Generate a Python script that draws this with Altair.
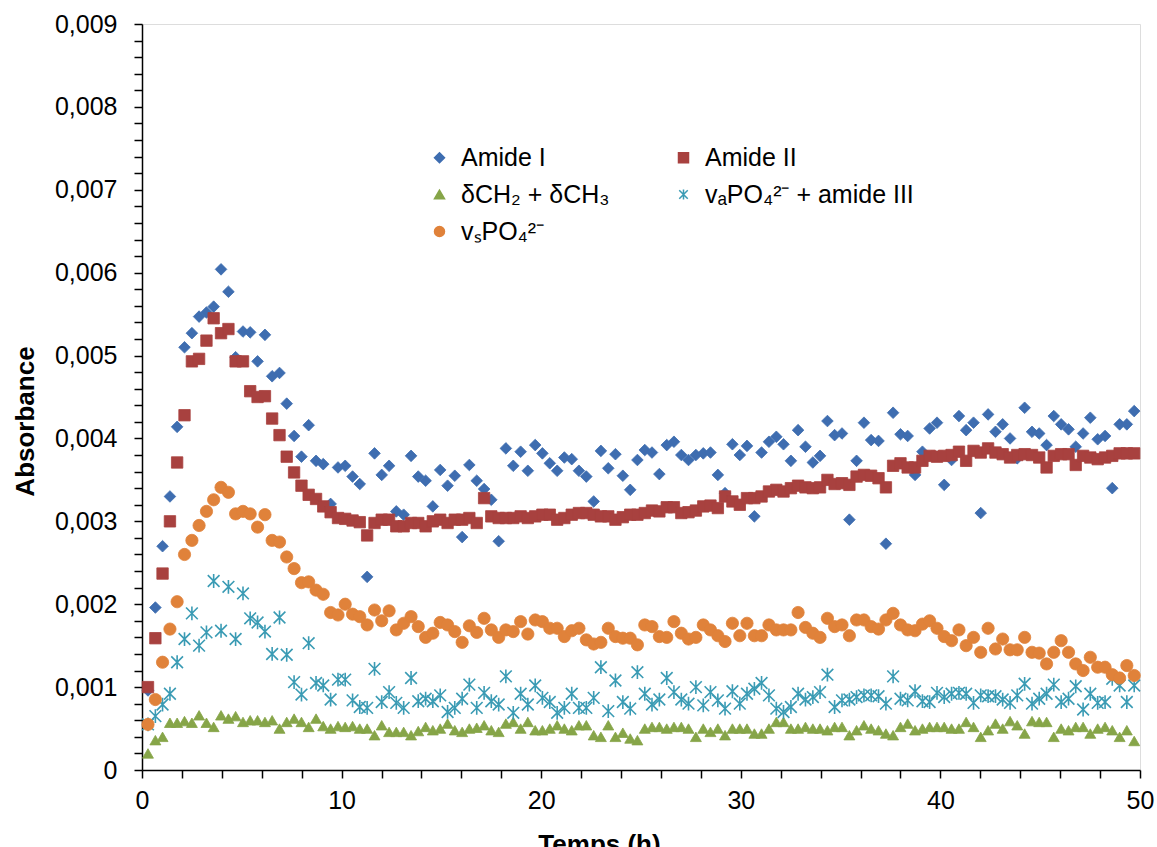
import altair as alt
import pandas as pd

# Time (h) of each acquisition
time_h = [0.30, 0.67, 1.03, 1.40, 1.76, 2.13, 2.50, 2.86, 3.23, 3.59,
          3.96, 4.33, 4.69, 5.06, 5.42, 5.79, 6.16, 6.52, 6.89, 7.25,
          7.62, 7.99, 8.35, 8.72, 9.08, 9.45, 9.82, 10.18, 10.55, 10.91,
          11.28, 11.65, 12.01, 12.38, 12.74, 13.11, 13.48, 13.84, 14.21, 14.57,
          14.94, 15.31, 15.67, 16.04, 16.40, 16.77, 17.14, 17.50, 17.87, 18.23,
          18.60, 18.97, 19.33, 19.70, 20.06, 20.43, 20.80, 21.16, 21.53, 21.89,
          22.26, 22.63, 22.99, 23.36, 23.72, 24.09, 24.46, 24.82, 25.19, 25.55,
          25.92, 26.29, 26.65, 27.02, 27.38, 27.75, 28.12, 28.48, 28.85, 29.21,
          29.58, 29.95, 30.31, 30.68, 31.04, 31.41, 31.78, 32.14, 32.51, 32.87,
          33.24, 33.61, 33.97, 34.34, 34.70, 35.07, 35.44, 35.80, 36.17, 36.53,
          36.90, 37.27, 37.63, 38.00, 38.36, 38.73, 39.10, 39.46, 39.83, 40.19,
          40.56, 40.93, 41.29, 41.66, 42.02, 42.39, 42.76, 43.12, 43.49, 43.85,
          44.22, 44.59, 44.95, 45.32, 45.68, 46.05, 46.42, 46.78, 47.15, 47.51,
          47.88, 48.25, 48.61, 48.98, 49.34, 49.71]

# Absorbance values, in units of 0.001
amide_I = [0.96, 1.96, 2.70, 3.30, 4.14, 5.10, 5.27, 5.47, 5.52, 5.59,
           6.04, 5.77, 4.98, 5.29, 5.28, 4.93, 5.25, 4.75, 4.79, 4.42,
           4.03, 3.78, 4.16, 3.73, 3.69, 3.21, 3.65, 3.67, 3.54, 3.45,
           2.33, 3.82, 3.56, 3.67, 3.12, 3.08, 3.79, 3.54, 3.49, 3.18,
           3.62, 3.43, 3.55, 2.81, 3.68, 3.49, 3.39, 3.26, 2.76, 3.88,
           3.67, 3.84, 3.61, 3.92, 3.82, 3.70, 3.61, 3.77, 3.75, 3.61,
           3.54, 3.24, 3.85, 3.64, 3.81, 3.55, 3.38, 3.74, 3.86, 3.83,
           3.57, 3.92, 3.96, 3.80, 3.74, 3.80, 3.82, 3.83, 3.56, 3.34,
           3.93, 3.80, 3.91, 3.06, 3.83, 3.96, 4.02, 3.93, 3.73, 4.10,
           3.90, 3.71, 3.79, 4.21, 4.04, 4.06, 3.02, 3.73, 4.19, 3.98,
           3.97, 2.73, 4.31, 4.05, 4.03, 3.56, 3.84, 4.12, 4.19, 3.44,
           3.74, 4.27, 4.10, 4.19, 3.10, 4.29, 4.08, 4.17, 4.00, 3.76,
           4.37, 4.08, 4.06, 3.92, 4.27, 4.17, 4.11, 3.90, 4.06, 4.25,
           3.99, 4.03, 3.40, 4.17, 4.17, 4.33]

amide_II = [1.00, 1.59, 2.37, 3.00, 3.71, 4.28, 4.93, 4.96, 5.18, 5.45,
            5.27, 5.32, 4.93, 4.93, 4.57, 4.50, 4.51, 4.24, 4.04, 3.78,
            3.59, 3.43, 3.32, 3.27, 3.18, 3.11, 3.04, 3.03, 3.01, 2.99,
            2.83, 2.98, 3.02, 3.02, 2.94, 2.94, 2.98, 2.98, 2.94, 3.00,
            3.02, 2.98, 3.02, 3.02, 3.04, 2.98, 3.28, 3.06, 3.04, 3.04,
            3.04, 3.06, 3.04, 3.06, 3.08, 3.08, 3.02, 3.04, 3.08, 3.10,
            3.10, 3.08, 3.06, 3.06, 3.02, 3.05, 3.08, 3.08, 3.10, 3.13,
            3.12, 3.17, 3.17, 3.10, 3.11, 3.13, 3.18, 3.19, 3.16, 3.30,
            3.24, 3.20, 3.28, 3.28, 3.30, 3.36, 3.38, 3.36, 3.40, 3.43,
            3.41, 3.40, 3.41, 3.50, 3.45, 3.46, 3.44, 3.54, 3.56, 3.55,
            3.52, 3.41, 3.67, 3.70, 3.65, 3.65, 3.73, 3.79, 3.78, 3.79,
            3.80, 3.84, 3.73, 3.85, 3.83, 3.88, 3.83, 3.81, 3.77, 3.80,
            3.81, 3.80, 3.77, 3.65, 3.79, 3.81, 3.81, 3.68, 3.79, 3.77,
            3.75, 3.77, 3.79, 3.82, 3.82, 3.82]

ch2_ch3 = [0.20, 0.36, 0.40, 0.57, 0.57, 0.59, 0.57, 0.66, 0.57, 0.52,
           0.66, 0.62, 0.65, 0.58, 0.60, 0.60, 0.58, 0.60, 0.50, 0.58,
           0.62, 0.58, 0.52, 0.62, 0.53, 0.50, 0.53, 0.52, 0.53, 0.50,
           0.50, 0.42, 0.54, 0.46, 0.46, 0.46, 0.42, 0.47, 0.52, 0.48,
           0.50, 0.56, 0.48, 0.46, 0.50, 0.51, 0.54, 0.48, 0.46, 0.56,
           0.58, 0.50, 0.58, 0.48, 0.48, 0.50, 0.54, 0.50, 0.48, 0.54,
           0.54, 0.42, 0.40, 0.54, 0.40, 0.45, 0.38, 0.36, 0.50, 0.52,
           0.52, 0.50, 0.52, 0.52, 0.50, 0.40, 0.50, 0.46, 0.50, 0.42,
           0.50, 0.50, 0.50, 0.44, 0.44, 0.50, 0.58, 0.58, 0.50, 0.50,
           0.52, 0.50, 0.50, 0.48, 0.52, 0.52, 0.42, 0.48, 0.54, 0.50,
           0.48, 0.44, 0.42, 0.52, 0.56, 0.48, 0.50, 0.52, 0.52, 0.52,
           0.50, 0.50, 0.58, 0.52, 0.40, 0.48, 0.56, 0.50, 0.59, 0.54,
           0.44, 0.59, 0.58, 0.58, 0.40, 0.50, 0.48, 0.52, 0.52, 0.44,
           0.50, 0.52, 0.48, 0.40, 0.48, 0.35]

va_po4_amide_III = [0.55, 0.65, 0.79, 0.92, 1.30, 1.58, 1.89, 1.50, 1.66, 2.28,
                    1.68, 2.21, 1.58, 2.13, 1.83, 1.78, 1.67, 1.40, 1.84, 1.39,
                    1.06, 0.91, 1.53, 1.05, 1.02, 0.85, 1.09, 1.09, 0.84, 0.76,
                    0.75, 1.22, 0.82, 0.94, 0.81, 0.75, 1.11, 0.83, 0.86, 0.83,
                    0.90, 0.70, 0.75, 0.86, 1.03, 0.75, 0.93, 0.83, 0.79, 1.13,
                    0.69, 0.92, 0.79, 1.02, 0.87, 0.82, 0.69, 0.75, 0.92, 0.75,
                    0.75, 0.87, 1.24, 0.71, 1.08, 0.82, 0.74, 1.18, 0.92, 0.79,
                    0.85, 1.11, 0.94, 0.85, 0.80, 1.00, 0.78, 0.94, 0.84, 0.74,
                    0.95, 0.80, 0.92, 0.98, 1.05, 0.90, 0.74, 0.70, 0.76, 0.92,
                    0.85, 0.88, 0.94, 1.15, 0.76, 0.84, 0.85, 0.88, 0.90, 0.90,
                    0.89, 0.80, 1.13, 0.86, 0.84, 0.95, 0.83, 0.82, 0.93, 0.88,
                    0.92, 0.93, 0.92, 0.81, 0.90, 0.89, 0.89, 0.85, 0.81, 0.90,
                    1.04, 0.80, 0.86, 0.92, 1.03, 0.82, 0.86, 1.01, 0.73, 0.92,
                    0.81, 0.82, 1.10, 1.02, 0.82, 1.02]

vs_po4 = [0.55, 0.85, 1.30, 1.70, 2.03, 2.60, 2.77, 2.95, 3.12, 3.26,
          3.41, 3.35, 3.09, 3.12, 3.09, 2.93, 3.08, 2.77, 2.75, 2.57,
          2.43, 2.26, 2.27, 2.17, 2.12, 1.90, 1.87, 2.00, 1.88, 1.85,
          1.75, 1.93, 1.80, 1.92, 1.69, 1.77, 1.85, 1.73, 1.60, 1.65,
          1.78, 1.75, 1.67, 1.54, 1.74, 1.66, 1.83, 1.69, 1.60, 1.69,
          1.67, 1.79, 1.64, 1.81, 1.79, 1.71, 1.71, 1.61, 1.68, 1.71,
          1.57, 1.52, 1.54, 1.71, 1.61, 1.59, 1.59, 1.51, 1.75, 1.73,
          1.61, 1.60, 1.79, 1.65, 1.58, 1.60, 1.75, 1.69, 1.62, 1.55,
          1.77, 1.62, 1.77, 1.62, 1.62, 1.75, 1.69, 1.69, 1.69, 1.90,
          1.72, 1.65, 1.60, 1.83, 1.73, 1.75, 1.62, 1.81, 1.81, 1.73,
          1.70, 1.81, 1.89, 1.75, 1.69, 1.68, 1.76, 1.80, 1.71, 1.61,
          1.56, 1.69, 1.50, 1.60, 1.42, 1.71, 1.46, 1.58, 1.45, 1.45,
          1.60, 1.42, 1.41, 1.28, 1.42, 1.56, 1.42, 1.28, 1.20, 1.36,
          1.24, 1.24, 1.15, 1.11, 1.26, 1.14]

# Series in drawing order
series_names = ["Amide I", "Amide II", "δCH₂ + δCH₃",
                "vₐPO₄²⁻ + amide III", "vₛPO₄²⁻"]
series_values = [amide_I, amide_II, ch2_ch3, va_po4_amide_III, vs_po4]
colors = ["#3E6DB0", "#A8413F", "#86A548", "#3A9BB4", "#E0823A"]
shapes = ["diamond", "square", "triangle-up",
          "M-0.85,-0.85L0.85,0.85M-0.85,0.85L0.85,-0.85M0,-1L0,1", "circle"]
marker_sizes = [135, 130, 120, 190, 150]

# Legend order (filled column by column: 3 rows x 2 columns)
legend_order = ["Amide I", "δCH₂ + δCH₃", "vₛPO₄²⁻",
                "Amide II", "vₐPO₄²⁻ + amide III"]
legend_colors = [colors[series_names.index(n)] for n in legend_order]
legend_shapes = [shapes[series_names.index(n)] for n in legend_order]

x_ticks = list(range(0, 51, 2))
y_ticks = [round(k * 0.0002, 4) for k in range(46)]

for vals in series_values:
    assert len(vals) == len(time_h), len(vals)

rows = []
for name, vals in zip(series_names, series_values):
    for t, v in zip(time_h, vals):
        rows.append({"t": t, "A": v / 1000.0, "series": name})
df = pd.DataFrame(rows)

FONT = "Liberation Sans"

legend = alt.Legend(
    title=None, orient="none", legendX=285, legendY=121, columns=2,
    columnPadding=61, rowPadding=11, labelFontSize=25, labelFont=FONT,
    labelColor="black", symbolSize=100, symbolStrokeWidth=1.5,
    labelOffset=9, padding=0, symbolOpacity=1, labelLimit=400,
)

x_enc = alt.X(
    "t:Q",
    scale=alt.Scale(domain=[0, 50], nice=False, zero=False),
    axis=alt.Axis(
        values=x_ticks,
        labelExpr="datum.value % 10 == 0 ? datum.label : ''",
        tickSize=8, tickWidth=1.5, tickColor="black",
        domainColor="black", domainWidth=1.5,
        labelFontSize=25, labelFont=FONT, labelColor="black",
        labelPadding=10, labelFlush=False, labelOverlap=False,
        grid=False, title="Temps (h)", titleFont=FONT, titleFontSize=26,
        titleFontWeight="bold", titleColor="black",
        titleX=457, titleY=82, titleBaseline="alphabetic", titleAlign="center",
    ),
)
y_enc = alt.Y(
    "A:Q",
    scale=alt.Scale(domain=[0, 0.009], nice=False),
    axis=alt.Axis(
        values=y_ticks,
        labelExpr="abs(datum.value * 1000 - round(datum.value * 1000)) < 0.001 ? "
                  "(datum.value == 0 ? '0' : replace(format(datum.value, '.3f'), '.', ',')) : ''",
        tickSize=8, tickWidth=1.5, tickColor="black",
        domainColor="black", domainWidth=1.5,
        labelFontSize=25, labelFont=FONT, labelColor="black",
        labelPadding=17, labelFlush=False, labelOverlap=False,
        grid=False, title="Absorbance", titleFont=FONT, titleFontSize=26,
        titleFontWeight="bold", titleColor="black",
        titleX=-109, titleY=397, titleAngle=270, titleBaseline="alphabetic",
        titleAlign="center",
    ),
)

fill_enc = alt.Fill("series:N", scale=alt.Scale(domain=legend_order, range=legend_colors), legend=legend)
stroke_enc = alt.Stroke("series:N", scale=alt.Scale(domain=legend_order, range=legend_colors), legend=legend)
shape_enc = alt.Shape("series:N", scale=alt.Scale(domain=legend_order, range=legend_shapes), legend=legend)

base = alt.Chart(df)
layers = []
for name, sz in zip(series_names, marker_sizes):
    sw = 1.6 if "amide III" in name else 0.8
    layers.append(
        base.transform_filter(alt.datum.series == name)
        .mark_point(size=sz, strokeWidth=sw, opacity=1)
        .encode(x=x_enc, y=y_enc, fill=fill_enc, stroke=stroke_enc, shape=shape_enc)
    )

chart = (
    alt.layer(*layers)
    .properties(
        width=998, height=746,
        autosize=alt.AutoSizeParams(type="none"),
        padding={"left": 142, "top": 24, "right": 17, "bottom": 77},
        background="white",
    )
    .configure_view(stroke=None)
    .configure(font=FONT)
)

chart.save("out.html", embed_options={"renderer": "svg", "actions": False})
